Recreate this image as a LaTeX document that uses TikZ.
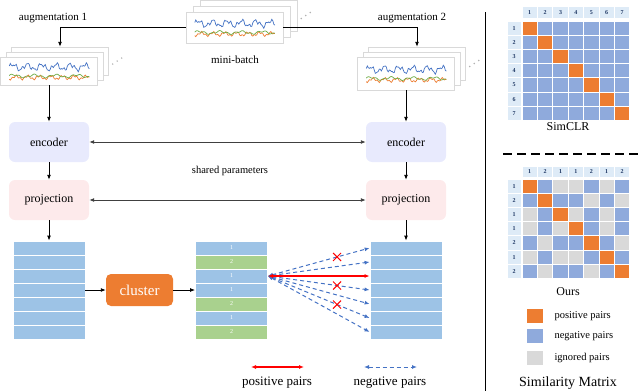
\documentclass[tikz,border=0pt]{standalone}
\usepackage{fontspec}
\setmainfont{Liberation Serif}
\usetikzlibrary{arrows.meta,positioning,shapes.misc}
\definecolor{wblue}{RGB}{68,114,196}
\definecolor{worange}{RGB}{237,125,49}
\definecolor{wgreen}{RGB}{112,173,71}
\definecolor{embblue}{RGB}{157,195,230}
\definecolor{embgreen}{RGB}{169,209,142}
\definecolor{encfill}{RGB}{232,234,253}
\definecolor{projfill}{RGB}{253,234,235}
\definecolor{negc}{RGB}{143,170,220}
\definecolor{ignc}{RGB}{217,217,217}
\definecolor{headc}{RGB}{222,235,247}
\definecolor{headtxt}{RGB}{31,56,100}

\newcommand{\waves}[1]{%
  \begin{scope}[shift={([xshift=9pt]#1.west)}, line width=0.7pt]
    \draw[wblue] plot[domain=0:80, samples=81] (\x, {-4 - 2.6*sin(25*\x) - 1.6*sin(61*\x+40) - 0.9*sin(113*\x)});
    \draw[worange] plot[domain=0:80, samples=81] (\x, {6.5 + 1.6*sin(31*\x+60) + 1.0*sin(89*\x+10)});
    \draw[wgreen] plot[domain=0:80, samples=81] (\x, {5 - 1.2*sin(17*\x+20) - 0.8*sin(47*\x)});
  \end{scope}}

\begin{document}
\begin{tikzpicture}[x=1pt, y=-1pt,
  card/.style={draw=gray!30, fill=white, minimum width=97pt, inner sep=0pt},
  net/.style={rounded corners=6pt, minimum width=80pt, minimum height=40pt, font=\fontsize{12}{14}\selectfont},
  emb/.style={draw=white, line width=0.8pt, minimum width=72pt, minimum height=14pt, inner sep=0pt, text=white, font=\fontsize{6}{6}\selectfont},
  arr/.style={-{Latex[length=5pt,width=4pt]}, line width=0.9pt},
  darr/.style={{Latex[length=5pt,width=4pt]}-{Latex[length=5pt,width=4pt]}, line width=0.9pt, black!75},
  posarr/.style={{Latex[length=5pt,width=4pt]}-{Latex[length=5pt,width=4pt]}, line width=1.1pt, red},
  negarr/.style={{Latex[length=5pt,width=4pt]}-{Latex[length=5pt,width=4pt]}, line width=1pt, wblue, dash pattern=on 4pt off 3pt},
  xmark/.style={cross out, draw=red, line width=1pt, minimum size=7pt, inner sep=0pt},
  cell/.style={draw=white, line width=1pt, minimum width=15.4pt, minimum height=14.2pt, inner sep=0pt},
  hcell/.style={cell, fill=headc, text=headtxt, font=\fontsize{6}{6}\selectfont\bfseries},
  lbl/.style={font=\fontsize{11}{13}\selectfont},
]
\useasboundingbox (0,0) rectangle (640,391);

% mini-batch and the two augmented views
\node[card, minimum height=31pt] (mb3) at (248.5,15.5) {};
\node[card, minimum height=31pt] (mb2) at (241.5,21.5) {};
\node[card, minimum height=31pt] (mb) at (234.5,27.5) {};
\waves{mb}
\foreach \dx/\dy in {4/3,8.5/0,13/-3} \fill[gray!60] (mb3.east) ++(\dx,\dy) circle[radius=0.8pt];
\node[lbl] (mblabel) at (235,60) {mini-batch};

\node[card, minimum height=28pt] (l3) at (60,61) {};
\node[card, minimum height=28pt] (l2) at (54.5,66) {};
\node[card, minimum height=28pt] (l1) at (49,71) {};
\waves{l1}
\foreach \dx/\dy in {4/3,8.5/0,13/-3} \fill[gray!60] (l3.east) ++(\dx,\dy) circle[radius=0.8pt];

\node[card, minimum height=33pt] (r3) at (417,63.5) {};
\node[card, minimum height=33pt] (r2) at (411.5,68.5) {};
\node[card, minimum height=33pt] (r1) at (406,73.5) {};
\waves{r1}
\foreach \dx/\dy in {4/3,8.5/0,13/-3} \fill[gray!60] (r3.east) ++(\dx,\dy) circle[radius=0.8pt];

\node[lbl] (aug1) at (53,18) {augmentation 1};
\node[lbl] (aug2) at (412,18) {augmentation 2};
\draw[arr] (mb.west) -| (l3.north);
\draw[arr] (mb.east) -| (r3.north);

% shared encoder / projection
\node[net, fill=encfill] (encL) at (49,142) {encoder};
\node[net, fill=projfill] (projL) at (49,200) {projection};
\node[net, fill=encfill] (encR) at (406,142) {encoder};
\node[net, fill=projfill] (projR) at (406,200) {projection};
\node[font=\fontsize{10.5}{12}\selectfont] (shared) at (230,171) {shared parameters};
\draw[arr] (l1.south) -- (encL.north);
\draw[arr] (r1.south) -- (encR.north);
\draw[arr] (encL) -- (projL);
\draw[arr] (encR) -- (projR);
\draw[darr] (encL) -- (encR);
\draw[darr] (projL) -- (projR);

% embeddings
\foreach \i in {1,...,7} {
  \node[emb, fill=embblue] (eL\i) at (49,{241+14*(\i-0.5)}) {};
  \node[emb, fill=embblue] (eR\i) at (406,{241+14*(\i-0.5)}) {};
}
\foreach \i/\c/\col in {1/1/embblue,2/2/embgreen,3/1/embblue,4/1/embblue,5/2/embgreen,6/1/embblue,7/2/embgreen}
  \node[emb, fill=\col] (eM\i) at (231.5,{241+14*(\i-0.5)}) {\c};
\draw[arr] (projL) -- (eL1);
\draw[arr] (projR) -- (eR1);

\node[fill=worange, rounded corners=5pt, minimum width=67pt, minimum height=32pt, text=white, font=\fontsize{15}{17}\selectfont] (cl) at (139.5,290) {cluster};
\draw[arr] (eL4) -- (cl);
\draw[arr] (cl) -- (eM4);

% pairs
\foreach \j in {1,2,4,5,6,7} \draw[negarr] (eM3.east) -- (eR\j.west);
\draw[posarr] (eM3.east) -- (eR3.west);
\foreach \j in {1,4,6} \path (eM3.east) -- node[xmark, pos=0.68] (x\j) {} (eR\j.west);

\node[font=\fontsize{13}{15}\selectfont] (lpos) at (277,383) {positive pairs};
\node[font=\fontsize{13}{15}\selectfont] (lneg) at (390,383) {negative pairs};
\coordinate (pa) at (251,367); \coordinate (pb) at (304,367);
\coordinate (na) at (364,367); \coordinate (nb) at (417,367);
\draw[posarr] (pa) -- (pb);
\draw[negarr] (na) -- (nb);

% separators
\coordinate (sepTop) at (485,12); \coordinate (sepBot) at (485,391);
\draw[line width=1pt] (sepTop) -- (sepBot);
\coordinate (dashL) at (503,154); \coordinate (dashR) at (638,154);
\draw[line width=1.2pt, dash pattern=on 9pt off 5pt] (dashL) -- (dashR);

% SimCLR matrix
\foreach \j in {1,...,7} \node[hcell, minimum height=11.5pt] (sh\j) at ({522+15.4*(\j-0.5)},12.5) {\j};
\foreach \i in {1,...,7} {
  \node[hcell, minimum width=14pt] (sr\i) at (514,{21+14.2*(\i-0.5)}) {\i};
  \foreach \j in {1,...,7} {
    \ifnum\i=\j \def\cc{worange}\else \def\cc{negc}\fi
    \node[cell, fill=\cc] (s\i-\j) at ({522+15.4*(\j-0.5)},{21+14.2*(\i-0.5)}) {};
  }
}
\node[font=\fontsize{12}{14}\selectfont] (simclr) at (568,127) {SimCLR};

% our matrix
\foreach \j/\b in {1/1,2/2,3/1,4/1,5/2,6/1,7/2} \node[hcell, minimum height=11.5pt] (oh\j) at ({522+15.4*(\j-0.5)},172) {\b};
\foreach \i/\a in {1/1,2/2,3/1,4/1,5/2,6/1,7/2} {
  \node[hcell, minimum width=14pt] (or\i) at (514,{179+14.2*(\i-0.5)}) {\a};
  \foreach \j/\b in {1/1,2/2,3/1,4/1,5/2,6/1,7/2} {
    \ifnum\i=\j \def\cc{worange}\else\ifnum\a=\b \def\cc{ignc}\else \def\cc{negc}\fi\fi
    \node[cell, fill=\cc] (o\i-\j) at ({522+15.4*(\j-0.5)},{179+14.2*(\i-0.5)}) {};
  }
}
\node[font=\fontsize{12}{14}\selectfont] (ours) at (568,292) {Ours};

% matrix legend
\node[fill=worange, minimum width=16pt, minimum height=14pt] (kpos) at (535,316) {};
\node[fill=negc, minimum width=16pt, minimum height=14pt] (kneg) at (535,336) {};
\node[fill=ignc, minimum width=16pt, minimum height=14pt] (kign) at (535,358) {};
\node[anchor=west, font=\fontsize{10.5}{12}\selectfont] (tpos) at (551,316) {positive pairs};
\node[anchor=west, font=\fontsize{10.5}{12}\selectfont] (tneg) at (551,336) {negative pairs};
\node[anchor=west, font=\fontsize{10.5}{12}\selectfont] (tign) at (551,358) {ignored pairs};
\node[font=\fontsize{14}{16}\selectfont] (simtitle) at (568,383) {Similarity Matrix};
\end{tikzpicture}
\end{document}
